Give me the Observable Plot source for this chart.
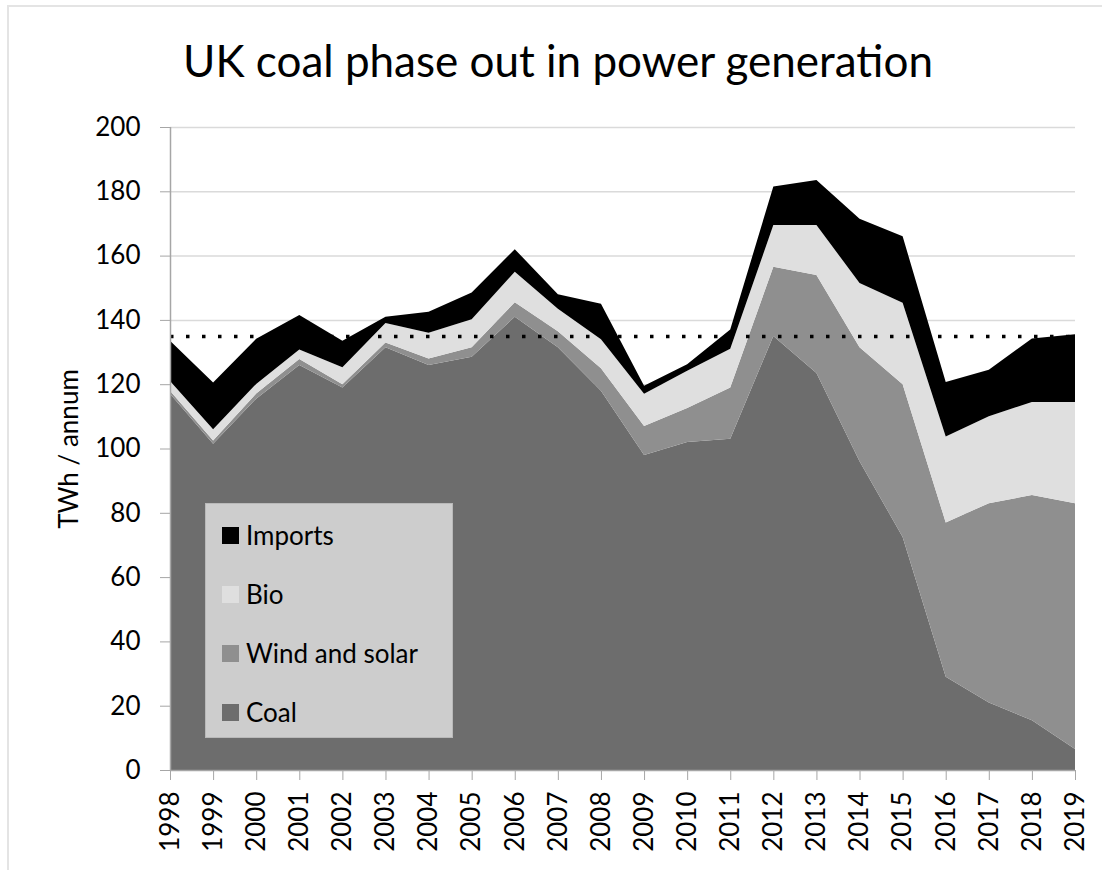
<!DOCTYPE html>
<html>
<head>
<meta charset="utf-8">
<script src="https://cdn.jsdelivr.net/npm/d3@7"></script>
<script src="https://cdn.jsdelivr.net/npm/@observablehq/plot@0.6"></script>
<style>
  html, body { margin: 0; padding: 0; background: #fff; }
  #wrap { position: relative; width: 1102px; height: 870px; overflow: hidden; font-family: Lato, sans-serif; color: #000; }
  #frame { position: absolute; left: 7px; top: 5px; width: 1200px; height: 1000px; border: 2px solid #e4e4e4; }
  #title { position: absolute; left: 0; top: 34px; width: 1116px; text-align: center; font-size: 44px; line-height: 52px; white-space: nowrap; }
  #chart { position: absolute; left: 0; top: 100px; }
  #ylabel { position: absolute; left: 68px; top: 449px; transform: translate(-50%, -50%) rotate(-90deg); font-size: 26px; white-space: nowrap; }
  #legend { position: absolute; left: 205px; top: 503px; width: 248px; height: 235px; box-sizing: border-box; background: #cdcdcd; border: 1px solid #b9b9b9; }
  .row { position: absolute; left: 0; height: 36px; display: flex; align-items: center; font-size: 26px; white-space: nowrap; }
  .sw { width: 17px; height: 17px; margin-left: 16px; margin-right: 7px; }
</style>
</head>
<body>
<div id="wrap">
  <div id="frame"></div>
  <div id="title">UK coal phase out in power generation</div>
  <div id="chart"></div>
  <div id="ylabel">TWh / annum</div>
  <div id="legend"></div>
</div>
<script>
// ---- data (TWh / annum) ----
const years   = [1998, 1999, 2000, 2001, 2002, 2003, 2004, 2005, 2006, 2007, 2008, 2009, 2010, 2011, 2012, 2013, 2014, 2015, 2016, 2017, 2018, 2019];
const coal    = [117, 101.5, 115.5, 126, 119, 131.5, 126, 128.5, 141, 131.5, 118, 98, 102, 103, 135, 123.5, 96, 72.5, 29, 21, 15.5, 6.5];
const wind    = [1, 1, 1.6, 1.8, 1, 1.5, 2, 3, 4.5, 5, 7, 9, 10.6, 16, 21.5, 30.5, 35.5, 47.5, 48, 62, 70, 76.5];
const bio     = [3, 3.5, 3, 3, 5.3, 6, 8, 8.7, 9.5, 7, 9, 10, 11.6, 12, 13, 15.5, 20, 25.3, 26.7, 27, 29, 31.5];
const imports = [12.5, 14.5, 14, 10.7, 8.2, 2, 6.5, 8.3, 7, 4.5, 11, 2.5, 2, 6, 12, 14, 20, 20.7, 17, 14.5, 19.7, 21];
const refLevel = [135];
const series  = ["Coal", "Wind and solar", "Bio", "Imports"];
const colors  = ["#6d6d6d", "#8f8f8f", "#dfdfdf", "#000000"];
const yTicks  = [0, 20, 40, 60, 80, 100, 120, 140, 160, 180, 200];
const legendOrder = ["Imports", "Bio", "Wind and solar", "Coal"];

const valuesBySeries = { "Coal": coal, "Wind and solar": wind, "Bio": bio, "Imports": imports };
const data = years.flatMap((yr, i) => series.map(s => ({ year: yr, source: s, value: valuesBySeries[s][i] })));

const chart = Plot.plot({
  width: 1102,
  height: 760,
  marginTop: 27,
  marginLeft: 170,
  marginRight: 27,
  marginBottom: 90,
  style: { fontFamily: "Lato, sans-serif", fontSize: "26px", color: "#000", background: "transparent" },
  x: { domain: [1998, 2019] },
  y: { domain: [0, 200] },
  color: { domain: series, range: colors },
  marks: [
    Plot.gridY(yTicks.filter(d => d > 0), { stroke: "#dadada", strokeOpacity: 1, strokeWidth: 1.5 }),
    Plot.areaY(data, { x: "year", y: "value", z: "source", fill: "source", order: series }),
    Plot.ruleY(refLevel, { stroke: "#000", strokeWidth: 3.5, strokeDasharray: "3.5 12.5" }),
    Plot.ruleX([1998], { stroke: "#a6a6a6", strokeWidth: 1.5 }),
    Plot.ruleY([0], { stroke: "#a6a6a6", strokeWidth: 1.5 }),
    Plot.axisY({ ticks: yTicks, tickSize: 10, tickPadding: 20, stroke: "#a6a6a6", label: null, tickFormat: d => String(d) }),
    Plot.axisX({ ticks: years, tickSize: 10, tickPadding: 11, tickRotate: -90, stroke: "#a6a6a6", label: null, tickFormat: d => String(d) })
  ]
});
document.getElementById("chart").appendChild(chart);

const legend = document.getElementById("legend");
legendOrder.forEach((name, i) => {
  const row = document.createElement("div");
  row.className = "row";
  row.style.top = (13 + i * 59) + "px";
  const sw = document.createElement("div");
  sw.className = "sw";
  sw.style.background = colors[series.indexOf(name)];
  const label = document.createElement("span");
  label.textContent = name;
  row.appendChild(sw);
  row.appendChild(label);
  legend.appendChild(row);
});
</script>
</body>
</html>
